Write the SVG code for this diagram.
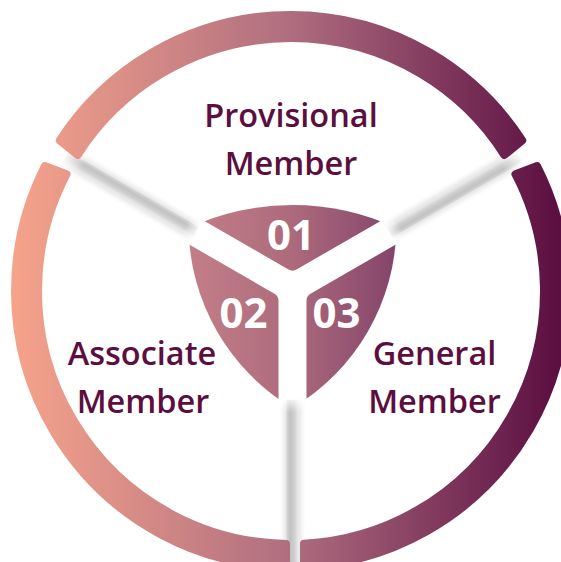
<svg xmlns="http://www.w3.org/2000/svg" width="561" height="562" viewBox="0 0 561 562">
  <defs>
    <linearGradient id="ringG" gradientUnits="userSpaceOnUse" x1="12" y1="0" x2="561" y2="0">
      <stop offset="0" stop-color="#f6a38b"/>
      <stop offset="0.5" stop-color="#b06f80"/>
      <stop offset="1" stop-color="#5a0e41"/>
    </linearGradient>
    <linearGradient id="triG" gradientUnits="userSpaceOnUse" x1="185" y1="0" x2="400" y2="0">
      <stop offset="0" stop-color="#c47f88"/>
      <stop offset="0.5" stop-color="#ac6a7c"/>
      <stop offset="1" stop-color="#82436a"/>
    </linearGradient>
    <linearGradient id="spokeG" x1="0" y1="0" x2="0" y2="1">
      <stop offset="0" stop-color="#ebebeb"/>
      <stop offset="0.35" stop-color="#cfcfcf"/>
      <stop offset="0.7" stop-color="#c2c2c2"/>
      <stop offset="1" stop-color="#d6d6d6"/>
    </linearGradient>
    <linearGradient id="fadeIn" x1="0" y1="0" x2="1" y2="0">
      <stop offset="0" stop-color="#fff" stop-opacity="1"/>
      <stop offset="1" stop-color="#fff" stop-opacity="0"/>
    </linearGradient>
    <linearGradient id="fadeOut" x1="0" y1="0" x2="1" y2="0">
      <stop offset="0" stop-color="#fff" stop-opacity="0"/>
      <stop offset="1" stop-color="#fff" stop-opacity="1"/>
    </linearGradient>
    <filter id="soft" x="-20%" y="-200%" width="140%" height="500%">
      <feGaussianBlur stdDeviation="2.5"/>
    </filter>
    <mask id="ymask" maskUnits="userSpaceOnUse" x="0" y="0" width="561" height="562">
      <rect x="0" y="0" width="561" height="562" fill="#fff"/>
      <path fill="#000" d="M288.5 269.53 L126.3 175.88 L112.3 200.12 L274.5 293.77 A8 8 0 0 1 278.5 300.7 L278.5 488 L306.5 488 L306.5 300.7 A8 8 0 0 1 310.5 293.77 L472.7 200.12 L458.7 175.88 L296.5 269.53 A8 8 0 0 1 288.5 269.53 Z"/>
    </mask>
    <clipPath id="c01"><polygon points="292.5,288 32.7,138 32.7,-20 552.3,-20 552.3,138"/></clipPath>
    <clipPath id="c02"><polygon points="292.5,288 32.7,138 -60,600 292.5,600"/></clipPath>
    <clipPath id="c03"><polygon points="292.5,288 292.5,600 650,600 552.3,138"/></clipPath>
    <path id="tri" d="M188.6 228 A246 246 0 0 1 396.4 228 A213 213 0 0 1 292.5 408 A213 213 0 0 1 188.6 228 Z"/>
    <g id="spoke">
      <rect x="112" y="-9" width="150" height="18" fill="#000" opacity="0.1" filter="url(#soft)"/>
      <rect x="112" y="-6" width="150" height="12" fill="url(#spokeG)"/>
      <rect x="108" y="-14" width="16" height="28" fill="url(#fadeIn)"/>
      <rect x="242" y="-16" width="24" height="32" fill="url(#fadeOut)"/>
    </g>
  </defs>
  <style>
    .seg { fill: url(#ringG); stroke: url(#ringG); stroke-width: 8; stroke-linejoin: round; }
    .lbl { font-family: "Open Sans", "Noto Sans", "DejaVu Sans", sans-serif; font-weight: 600; font-size: 32.5px; fill: #5c0f3f; text-anchor: middle; }
    .num { font-family: "Open Sans", "Noto Sans", "DejaVu Sans", sans-serif; font-weight: 700; font-size: 42px; fill: #ffffff; text-anchor: middle; }
    .piece { fill: url(#triG); }
  </style>

  <rect x="0" y="0" width="561" height="562" fill="#ffffff"/>

  <g id="connectors">
    <g transform="translate(292.5 288) rotate(210)"><use href="#spoke"/></g>
    <g transform="translate(292.5 288) rotate(330)"><use href="#spoke"/></g>
    <g transform="translate(292.5 288) rotate(90)">
      <rect x="112" y="-9" width="170" height="18" fill="#000" opacity="0.1" filter="url(#soft)"/>
      <rect x="112" y="-6" width="170" height="12" fill="url(#spokeG)"/>
      <rect x="108" y="-14" width="16" height="28" fill="url(#fadeIn)"/>
    </g>
  </g>

  <g id="ring">
    <path class="seg" d="M59.74 140.33 A276 276 0 0 1 522.26 140.33 L504.33 154.99 A253 253 0 0 0 77.67 154.99 Z"/>
    <path class="seg" d="M537.08 166.05 A276 276 0 0 1 304 566.69 L304 543.66 A253 253 0 0 0 515.46 174.27 Z"/>
    <path class="seg" d="M286 566.95 A276 276 0 0 1 44.92 166.05 L66.54 174.27 A253 253 0 0 0 286 543.95 Z"/>
  </g>

  <g id="node-01">
    <g mask="url(#ymask)"><use href="#tri" class="piece" clip-path="url(#c01)"/></g>
    <text class="num" x="291" y="250">01</text>
    <text class="lbl" x="291" y="127">Provisional</text>
    <text class="lbl" x="291" y="175">Member</text>
  </g>
  <g id="node-02">
    <g mask="url(#ymask)"><use href="#tri" class="piece" clip-path="url(#c02)"/></g>
    <text class="num" x="243.5" y="328">02</text>
    <text class="lbl" x="142" y="365">Associate</text>
    <text class="lbl" x="143" y="413">Member</text>
  </g>
  <g id="node-03">
    <g mask="url(#ymask)"><use href="#tri" class="piece" clip-path="url(#c03)"/></g>
    <text class="num" x="336.5" y="328">03</text>
    <text class="lbl" x="434.5" y="365">General</text>
    <text class="lbl" x="434.5" y="413">Member</text>
  </g>
</svg>
